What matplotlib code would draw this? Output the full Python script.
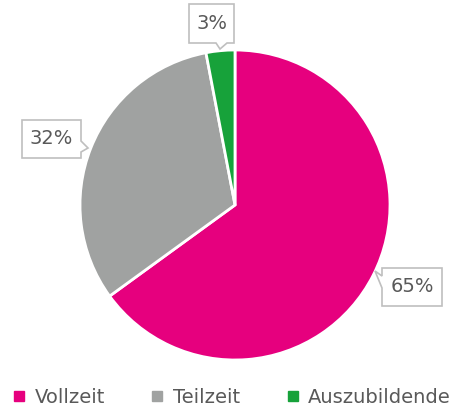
import matplotlib
matplotlib.use("Agg")
import matplotlib.pyplot as plt
from matplotlib.patches import Polygon
from matplotlib.lines import Line2D

categories = ["Vollzeit", "Teilzeit", "Auszubildende"]
values = [65, 32, 3]
labels = ["65%", "32%", "3%"]
colors = ["#E6007E", "#A0A2A1", "#17A23A"]

W, H = 462, 412
fig = plt.figure(figsize=(W / 100, H / 100), dpi=100)
plt.rcParams['font.family'] = ['DejaVu Sans']

cx, cy, r = 235, 205, 155
half = 1.25 * r
ax = fig.add_axes([(cx - half) / W, (H - cy - half) / H, 2 * half / W, 2 * half / H])
wedges, _ = ax.pie(values, colors=colors, startangle=90, counterclock=False,
                   wedgeprops=dict(edgecolor="white", linewidth=2))
ax.set_xlim(-1.25, 1.25)
ax.set_ylim(-1.25, 1.25)
ax.set_aspect("equal")

# overlay in pixel coordinates for callouts
ov = fig.add_axes([0, 0, 1, 1], facecolor="none")
ov.set_xlim(0, W)
ov.set_ylim(H, 0)
ov.axis("off")

txtcol = "#595959"
edgecol = "#BFBFBF"

callouts = {
    "3%": [(189, 4), (234, 4), (234, 43), (227, 43), (220, 49), (216, 43), (189, 43)],
    "32%": [(22, 120), (81, 120), (81, 141), (88, 148), (81, 152), (81, 158), (22, 158)],
    "65%": [(382, 268), (442, 268), (442, 306), (382, 306), (382, 288), (375, 271), (382, 276)],
}
centers = {"3%": (211.5, 23.5), "32%": (51.5, 139), "65%": (412, 287)}
for lab in labels:
    ov.add_patch(Polygon(callouts[lab], closed=True, facecolor="white",
                         edgecolor=edgecol, linewidth=1.2, zorder=3))
    x, y = centers[lab]
    ov.text(x, y, lab, ha="center", va="center", fontsize=14, color=txtcol, zorder=4)

handles = [Line2D([], [], marker="s", linestyle="none", markersize=7,
                  markerfacecolor=c, markeredgecolor=c) for c in colors]
fig.legend(handles, categories, loc="lower center", ncol=3, frameon=False,
           fontsize=14, labelcolor=txtcol, handlelength=0.8, handletextpad=0.4,
           columnspacing=2.3, bbox_to_anchor=(0.5, -0.015), borderaxespad=0.2)

fig.savefig("out.png", dpi=100)
